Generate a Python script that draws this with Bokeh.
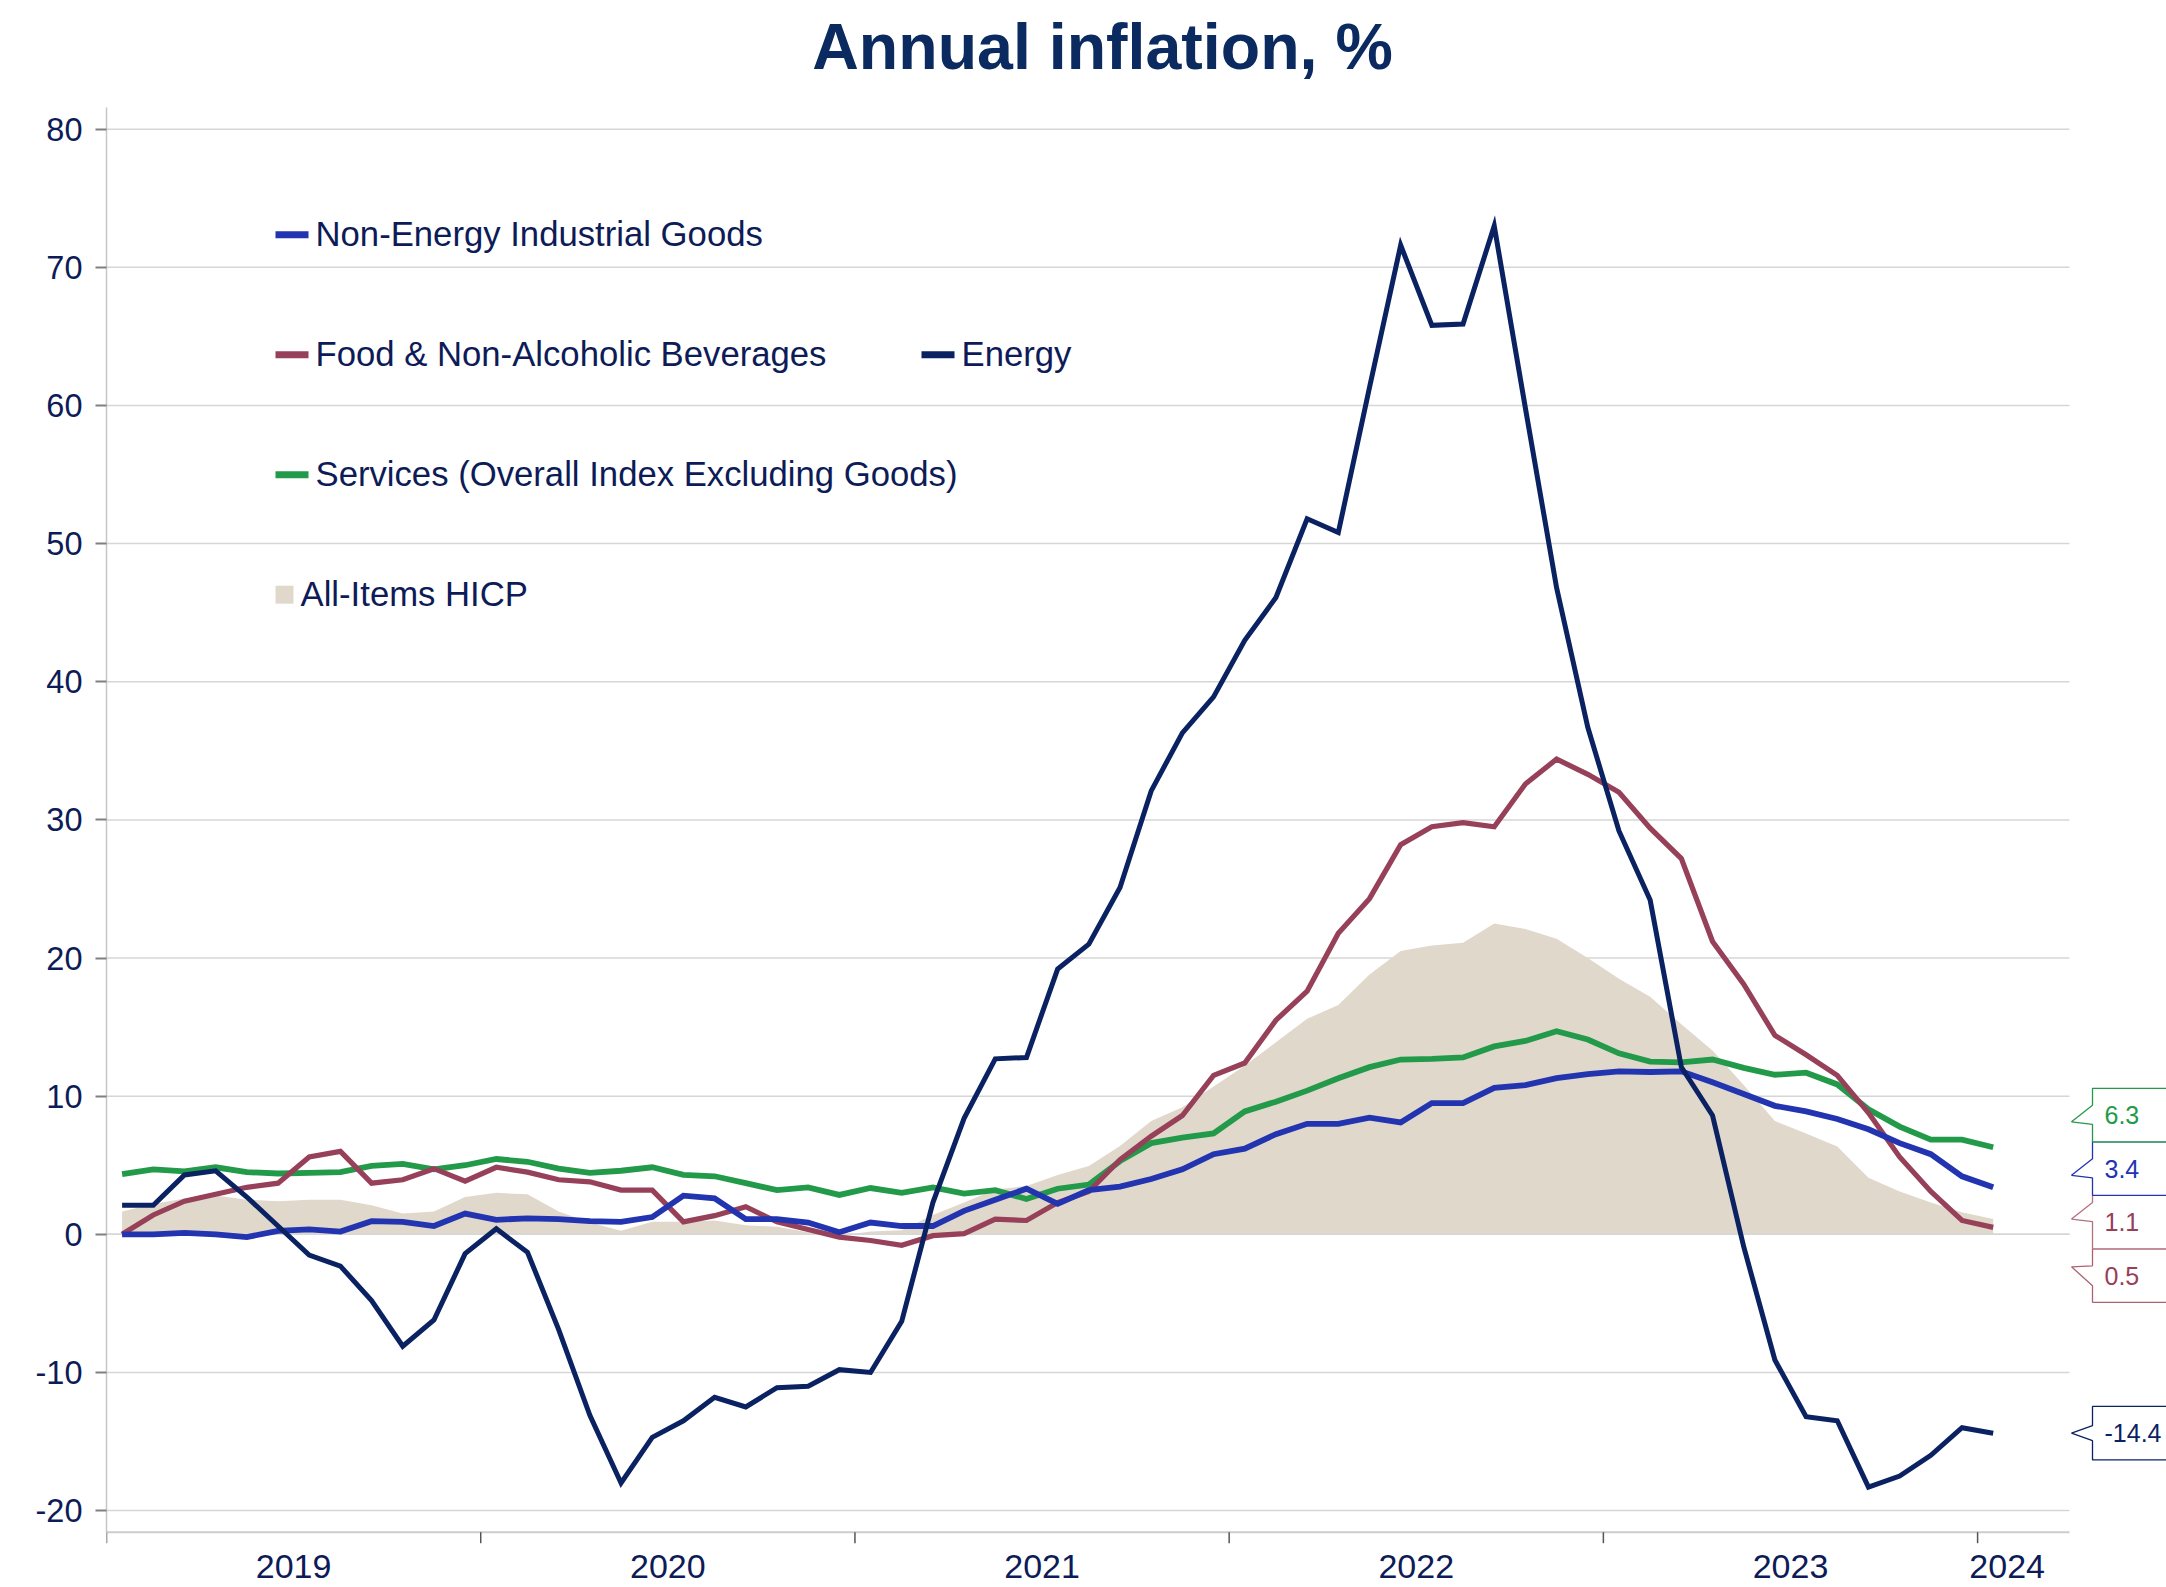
import numpy as np
import pandas as pd
from bokeh.plotting import figure
from bokeh.models import Range1d, FixedTicker, ColumnDataSource
from bokeh.core.properties import value
from bokeh.embed import file_html
from bokeh.resources import INLINE

# ---------------- data (annual % change, Jan 2019 .. Jan 2024) ----------------
months = pd.date_range("2019-01-01", "2024-01-01", freq="MS")
years = ["2019", "2020", "2021", "2022", "2023", "2024"]
y_ticks = [-20, -10, 0, 10, 20, 30, 40, 50, 60, 70, 80]

energy = [2.1, 2.1, 4.3, 4.6, 2.7, 0.6, -1.5, -2.3, -4.8, -8.1,
          -6.2, -1.4, 0.4, -1.3, -6.9, -13.1, -18.0, -14.7, -13.5, -11.8,
          -12.5, -11.1, -11.0, -9.8, -10.0, -6.3, 2.3, 8.4, 12.7, 12.8,
          19.2, 21.0, 25.1, 32.1, 36.3, 38.9, 43.0, 46.1, 51.8, 50.8,
          61.3, 71.6, 65.8, 65.9, 73.0, 59.8, 46.8, 36.7, 29.2, 24.2,
          12.1, 8.6, -0.9, -9.1, -13.2, -13.5, -18.3, -17.5, -16.0, -14.0,
          -14.4]

food = [0.0, 1.4, 2.4, 2.9, 3.4, 3.7, 5.6, 6.0, 3.7, 3.95,
        4.75, 3.85, 4.85, 4.5, 3.95, 3.8, 3.2, 3.2, 0.9, 1.35,
        2.0, 0.9, 0.35, -0.2, -0.45, -0.8, -0.1, 0.05, 1.1, 1.0,
        2.3, 3.1, 5.4, 7.1, 8.6, 11.5, 12.4, 15.5, 17.6, 21.8,
        24.3, 28.2, 29.5, 29.8, 29.5, 32.6, 34.4, 33.3, 32.0, 29.4,
        27.2, 21.2, 18.1, 14.4, 13.0, 11.5, 8.8, 5.6, 3.1, 1.0,
        0.5]

services = [4.35, 4.7, 4.55, 4.85, 4.5, 4.4, 4.45, 4.5, 4.95, 5.1,
            4.7, 5.0, 5.45, 5.25, 4.75, 4.45, 4.6, 4.85, 4.3, 4.2,
            3.7, 3.2, 3.4, 2.85, 3.35, 3.0, 3.4, 2.95, 3.2, 2.55,
            3.3, 3.6, 5.3, 6.6, 7.0, 7.3, 8.9, 9.6, 10.4, 11.3,
            12.1, 12.65, 12.7, 12.8, 13.6, 14.0, 14.7, 14.1, 13.1, 12.5,
            12.45, 12.65, 12.05, 11.55, 11.7, 10.85, 9.05, 7.8, 6.85, 6.85,
            6.3]

neig = [0.0, 0.0, 0.1, 0.0, -0.2, 0.25, 0.35, 0.2, 0.95, 0.9,
        0.6, 1.5, 1.05, 1.15, 1.1, 0.95, 0.9, 1.25, 2.8, 2.6,
        1.1, 1.1, 0.85, 0.15, 0.85, 0.6, 0.6, 1.7, 2.5, 3.3,
        2.2, 3.2, 3.45, 4.0, 4.7, 5.8, 6.2, 7.25, 8.0, 8.0,
        8.45, 8.1, 9.5, 9.5, 10.6, 10.8, 11.3, 11.6, 11.8, 11.75,
        11.8, 11.0, 10.15, 9.3, 8.9, 8.35, 7.6, 6.6, 5.8, 4.2,
        3.4]

hicp = [1.65, 2.2, 2.6, 2.8, 2.5, 2.4, 2.5, 2.5, 2.1, 1.5,
        1.65, 2.7, 3.0, 2.9, 1.65, 0.85, 0.25, 0.9, 0.9, 1.0,
        0.65, 0.55, 0.15, -0.1, 0.2, 0.3, 1.4, 2.3, 3.25, 3.5,
        4.3, 4.95, 6.4, 8.2, 9.2, 10.7, 12.2, 13.9, 15.6, 16.6,
        18.8, 20.5, 20.9, 21.1, 22.5, 22.1, 21.4, 20.0, 18.5, 17.2,
        15.2, 13.3, 10.8, 8.2, 7.3, 6.35, 4.1, 3.1, 2.3, 1.6,
        1.1]

names = {
    "neig": "Non-Energy Industrial Goods",
    "food": "Food & Non-Alcoholic Beverages",
    "energy": "Energy",
    "services": "Services (Overall Index Excluding Goods)",
    "hicp": "All-Items HICP",
}

# ---------------- styling / layout ----------------
C_NEIG = "#2234b0"
C_FOOD = "#974059"
C_EN = "#0b2262"
C_SERV = "#229a4a"
C_HICP = "#e1d8cc"
TXT = "#0d1b57"
FONT = "Liberation Sans"

W, H = 2166, 1585
LEFT = 106
PX_X = 31.185        # pixels per month
PX_Y = 13.814        # pixels per percentage point
ZERO_PX = 1233.8     # pixel row of y = 0
X1 = (W - LEFT) / PX_X
Y1 = ZERO_PX / PX_Y
Y0 = -(H - ZERO_PX) / PX_Y


def mx(px):   # horizontal pixel -> month units
    return (px - LEFT) / PX_X


def vy(py):   # vertical pixel -> percentage units
    return (ZERO_PX - py) / PX_Y


def ytxt(baseline_px, fs):   # centre of text box for a given baseline
    return vy(baseline_px - 0.3465 * fs)


x = [i + 0.5 for i in range(len(months))]
AX_END = mx(2069)
AX_BOTTOM = vy(1531.7)
AX_TOP = vy(106.7)

p = figure(width=W, height=H, x_range=Range1d(0, X1), y_range=Range1d(Y0, Y1),
           output_backend="svg", toolbar_location=None, x_axis_location=None,
           min_border_left=LEFT, min_border_right=0, min_border_top=0,
           min_border_bottom=0, outline_line_color=None,
           background_fill_color="white", border_fill_color="white")
p.title.visible = False
p.grid.visible = False

ya = p.yaxis[0]
ya.ticker = FixedTicker(ticks=y_ticks)
ya.major_label_overrides = {t: str(t) for t in y_ticks}
ya.bounds = (AX_BOTTOM, AX_TOP)
ya.axis_line_color = "#c6c6c6"
ya.axis_line_width = 1.5
ya.major_tick_line_color = "#808080"
ya.major_tick_line_width = 2
ya.major_tick_out = 11
ya.major_tick_in = 0
ya.minor_tick_line_color = None
ya.major_label_text_font = FONT
ya.major_label_text_font_size = "32.5px"
ya.major_label_text_color = TXT
ya.major_label_standoff = 13

# gridlines
p.segment(x0=[0] * len(y_ticks), x1=[AX_END] * len(y_ticks), y0=y_ticks, y1=y_ticks,
          line_color="#d6d6d6", line_width=1.5)

# HICP area
src = ColumnDataSource(dict(x=x, energy=energy, food=food, services=services,
                            neig=neig, hicp=hicp))
p.varea(x="x", y1=0, y2="hicp", source=src, fill_color=C_HICP)
p.segment(x0=[0], x1=[AX_END], y0=[0], y1=[0], line_color="#d6d6d6", line_width=1.5)

# series lines
p.line("x", "services", source=src, line_color=C_SERV, line_width=5.8, line_join="miter")
p.line("x", "food", source=src, line_color=C_FOOD, line_width=5.2, line_join="miter")
p.line("x", "neig", source=src, line_color=C_NEIG, line_width=5.8, line_join="miter")
p.line("x", "energy", source=src, line_color=C_EN, line_width=5.0, line_join="miter")

# x axis (drawn inside the frame so that the side labels can sit beyond it)
p.segment(x0=[0], x1=[AX_END], y0=[AX_BOTTOM], y1=[AX_BOTTOM],
          line_color="#cdcdcd", line_width=2)
year_edges = [12 * k for k in range(len(years))]
p.segment(x0=year_edges, x1=year_edges, y0=[AX_BOTTOM] * len(years),
          y1=[AX_BOTTOM - 11 / PX_Y] * len(years), line_color="#555555", line_width=1.5)
year_pos = [min(12 * k + 6, AX_END - 2.0) for k in range(len(years))]
p.text(x=year_pos, y=[ytxt(1578, 34)] * len(years), text=years, text_align="center",
       text_baseline="middle", text_font=value(FONT), text_font_size="34px",
       text_color=TXT)

# title
p.text(x=[mx(1102)], y=[ytxt(68.5, 64.5)], text=["Annual inflation, %"],
       text_align="center", text_baseline="middle", text_font=value(FONT),
       text_font_style="bold", text_font_size="64.5px", text_color="#0b2b60")

# legend
row_gap = 120 / PX_Y
row0_px = 234.2
leg_lines = [("neig", C_NEIG, 0, 0), ("food", C_FOOD, 1, 0), ("energy", C_EN, 1, 1),
             ("services", C_SERV, 2, 0)]
col_x = [mx(275), mx(921)]
sw_len = 33 / PX_X
for key, col, r, c in leg_lines:
    yy = vy(row0_px) - r * row_gap
    p.segment(x0=[col_x[c]], x1=[col_x[c] + sw_len], y0=[yy], y1=[yy],
              line_color=col, line_width=7, line_cap="butt")
    p.text(x=[col_x[c] + sw_len + 7 / PX_X], y=[ytxt(row0_px + 11, 34.7) - r * row_gap],
           text=[names[key]], text_baseline="middle", text_font=value(FONT),
           text_font_size="34.7px", text_color=TXT)
yy = vy(row0_px) - 3 * row_gap
p.rect(x=[col_x[0] + 9 / PX_X], y=[yy], width=18, height=18,
       width_units="screen", height_units="screen", fill_color=C_HICP, line_color=None)
p.text(x=[col_x[0] + 25 / PX_X], y=[ytxt(row0_px + 11, 34.7) - 3 * row_gap],
       text=[names["hicp"]], text_baseline="middle", text_font=value(FONT),
       text_font_size="34.7px", text_color=TXT)

# end-value callouts (stacked to avoid overlap)
BOX_H = 53.5 / PX_Y
labels = [
    dict(v=services[-1], tc=C_SERV, lc=C_SERV),
    dict(v=neig[-1], tc=C_NEIG, lc=C_NEIG),
    dict(v=hicp[-1], tc=C_FOOD, lc="#b5707f"),
    dict(v=food[-1], tc=C_FOOD, lc="#ad6173"),
    dict(v=energy[-1], tc=C_EN, lc=C_EN),
]
labels.sort(key=lambda d: -d["v"])
groups = []
for lab in labels:
    groups.append([lab])
    while len(groups) > 1:
        a, b = groups[-2], groups[-1]
        bot_a = np.mean([l["v"] for l in a]) - len(a) * BOX_H / 2
        top_b = np.mean([l["v"] for l in b]) + len(b) * BOX_H / 2
        if top_b > bot_a:
            groups[-2] = a + b
            groups.pop()
        else:
            break

L = mx(2092)
TIPX = mx(2071)
R = X1 + 5
boxes = []
for g in groups:
    top = np.mean([l["v"] for l in g]) + len(g) * BOX_H / 2
    for k, lab in enumerate(g):
        T = top - k * BOX_H
        B = T - BOX_H
        tip = float(np.clip(lab["v"], B + 20 / PX_Y, T - 18 / PX_Y))
        if len(g) == 1:
            up, lo = tip + 7.5 / PX_Y, tip - 7.5 / PX_Y
        elif lab["v"] > tip + 1e-9:
            up, lo = tip + 1 / PX_Y, tip - 19 / PX_Y
        else:
            up, lo = tip + 16.5 / PX_Y, tip - 2.5 / PX_Y
        boxes.append(dict(xs=[L, R, R, L, L, TIPX, L], ys=[T, T, B, B, lo, tip, up],
                          lc=lab["lc"], tc=lab["tc"], cy=(T + B) / 2,
                          txt=f"{lab['v']:.1f}"))
boxes.sort(key=lambda b: b["cy"])
p.patches(xs=[b["xs"] for b in boxes], ys=[b["ys"] for b in boxes],
          fill_color="white", line_color=[b["lc"] for b in boxes], line_width=1.3)
p.text(x=[mx(2104)] * len(boxes), y=[b["cy"] for b in boxes],
       text=[b["txt"] for b in boxes], text_color=[b["tc"] for b in boxes],
       text_baseline="middle", text_font=value(FONT), text_font_size="25px")

open("out.html", "w").write(file_html(p, INLINE))
